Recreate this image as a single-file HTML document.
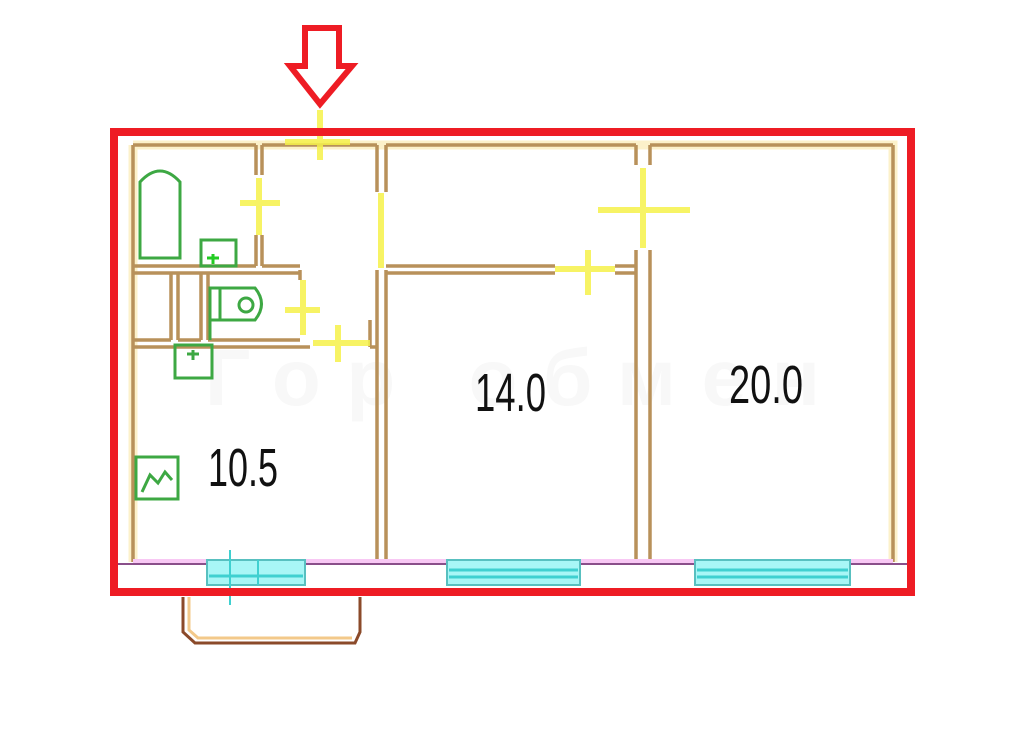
<!DOCTYPE html>
<html><head><meta charset="utf-8"><style>html,body{margin:0;padding:0;background:#fff;}svg{display:block}</style></head>
<body>
<svg width="1024" height="735" viewBox="0 0 1024 735" xmlns="http://www.w3.org/2000/svg">
<rect width="1024" height="735" fill="#fff"/>
<!-- watermark -->
<text x="205" y="405" font-family="Liberation Sans, sans-serif" font-size="80" font-weight="bold" fill="#f8f8f8" textLength="615" lengthAdjust="spacing">Гор обмен</text>
<!-- wall halos -->
<g stroke="#fbeebd" stroke-width="9" fill="none" opacity="0.8">
<path d="M133 145 H893 V562 M133 145 V562"/>
</g>
<!-- walls -->
<g stroke="#b8915a" stroke-width="3.5" fill="none">
<path d="M133 145 V562"/>
<path d="M133 145 H256 M262 145 H377 M386 145 H636 M650 145 H893"/>
<path d="M893 145 V562"/>
<path d="M256 145 V175 M256 235 V266"/>
<path d="M262 145 V175 M262 235 V266"/>
<path d="M377 145 V192 M377 270 V562"/>
<path d="M386 145 V192 M386 270 V562"/>
<path d="M636 145 V165 M636 250 V562"/>
<path d="M650 145 V165 M650 250 V562"/>
<path d="M386 266 H555 M386 273 H555 M615 266 H636 M615 273 H636"/>
<path d="M133 266 H256 M262 266 H300 M133 273 H300"/>
<path d="M171 273 V340 M178 273 V340 M201 273 V340 M208 273 V340"/>
<path d="M133 340 H171 M178 340 H201 M208 340 H300"/>
<path d="M133 347 H310 M370 347 H377"/>
<path d="M300 270 V280 M370 320 V347"/>
</g>
<!-- doors yellow -->
<g stroke="#f6f24a" stroke-width="6" fill="none" opacity="0.85">
<path d="M285 142 H350 M320 110 V160"/>
<path d="M259 178 V235 M240 203 H280"/>
<path d="M381 193 V268"/>
<path d="M643 168 V248 M598 210 H690"/>
<path d="M555 269 H615 M588 250 V295"/>
<path d="M303 280 V335 M285 310 H320"/>
<path d="M313 343 H370 M338 325 V362"/>
</g>
<!-- fixtures green -->
<g stroke="#3da843" stroke-width="3" fill="none">
<path d="M140 258 V182 Q160 160 180 182 V258 Z"/>
<rect x="201" y="240" width="35" height="26"/>
<path d="M210 340 V288 H255 Q268 304 255 320 H210"/>
<path d="M220 288 V320"/>
<circle cx="246" cy="305" r="7"/>
<rect x="175" y="345" width="37" height="33"/>
<path d="M193 350 V360 M187 354 H199"/>
<rect x="136" y="457" width="42" height="42"/>
<path d="M142 492 L150 475 L158 483 L165 472 L172 480"/>
<path d="M213 254 V264 M207 258 H219" stroke="#22cc22"/>
</g>
<!-- bottom line -->
<path d="M133 562 H893" stroke="#f8c8f4" stroke-width="6"/>
<path d="M118 564 H907" stroke="#8a4f8a" stroke-width="2"/>
<!-- windows -->
<g fill="#a8f6f6" stroke="#58c0c0" stroke-width="2">
<rect x="207" y="560" width="98" height="25"/>
<rect x="447" y="560" width="133" height="25"/>
<rect x="695" y="560" width="155" height="25"/>
</g>
<g stroke="#3fd0d0" stroke-width="3">
<path d="M209 576 H303 M449 570 H578 M449 577 H578 M697 570 H848 M697 577 H848"/>
<path d="M230 550 V605 M258 560 V585" stroke-width="2"/>
</g>
<!-- balcony -->
<path d="M183 597 V632 L195 643 H355 L360 632 V597" fill="none" stroke="#8b4a2a" stroke-width="3"/>
<path d="M189 597 V630 L198 638 H352" fill="none" stroke="#f3c98a" stroke-width="3"/>
<!-- red frame -->
<rect x="114" y="132" width="797" height="460" fill="none" stroke="#ee1c24" stroke-width="8"/>
<!-- arrow -->
<path d="M305 28 H339 V66 H352 L320 104 L290 66 H305 Z" fill="#fff" stroke="#ee1c24" stroke-width="6" stroke-linejoin="miter"/>
<!-- labels -->
<g font-family="Liberation Sans, sans-serif" font-size="54" fill="#111">
<text x="208" y="486" textLength="70" lengthAdjust="spacingAndGlyphs">10.5</text>
<text x="475" y="411" textLength="71" lengthAdjust="spacingAndGlyphs">14.0</text>
<text x="729" y="403" textLength="74" lengthAdjust="spacingAndGlyphs">20.0</text>
</g>
</svg>
</body></html>
